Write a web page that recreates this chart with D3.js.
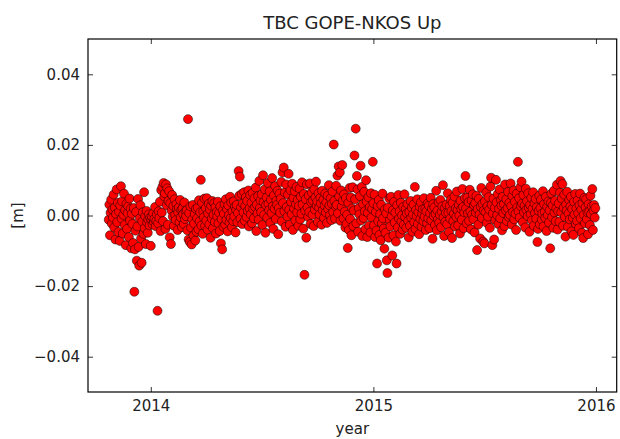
<!DOCTYPE html>
<html>
<head>
<meta charset="utf-8">
<script src="https://cdn.jsdelivr.net/npm/d3@7"></script>
<style>
  body { margin: 0; background: #fff; }
  svg { display: block; font-family: "DejaVu Sans", sans-serif; }
</style>
</head>
<body>
<svg id="chart" width="620" height="439"></svg>
<script>
// daily Up component, values in mm
const start2013 = "2013-10-24";
const up2013 = [
  -1.2, 3.1, -5.6, 0.8, 4.5, -2.3, 1.7, -0.6,
  5.9, -3.4, 2.2, -6.8, 0.4, 7.4, -1.9, 3.6, -4.7, 1.1, -7.2, 2.8, 8.3, -0.9, 4.0, -5.1, 0.2, 6.2, -2.7, 1.5, -8.4, 3.3, -3.8, 0.7, 2.6, -6.1, 4.8, -1.4, 1.9, -9.3,
  0.5, -2.4, -7.8, 2.1, -21.6, -9.6, -4.3, 1.0, -12.8, -3.1, 4.7, -8.9, -14.2, -0.8, 2.9, -6.5, -13.4, -1.7, 0.9, -5.2, 6.6, -3.6, -0.2, -8.1, 1.3, -2.0, -4.9, -1.1, 0.3, -2.8, -0.6
];

const start2014 = "2014-01-01";
const up2014 = [
  // jan
  -8.6, -1.2, -0.4, -2.5, 0.6, -1.8, -0.9, 2.4, -3.0, -1.5, 0.3, -27.0, -2.2, 1.2, -0.7, 3.9, -4.4, 7.2, 0.8, 8.1, -1.6, 9.2, 5.4, 6.3, -3.8, 8.8, 2.9, 7.7, -2.6, 4.1, 6.9,
  // feb
  -6.2, 3.5, -8.1, 1.4, 5.8, -0.3, 2.7, -2.9, 4.6, 0.1, -1.3, 3.2, 1.8, -4.1, 0.9, 2.3, -1.9, 4.4, -0.5, 1.6, -3.3, 2.0, 0.4, -2.4, 3.7, -1.0, 1.2, -0.2,
  // mar
  1.5, -4.2, 27.3, -6.8, 0.7, -7.5, 2.6, -3.4, -8.2, -1.1, 3.0, -5.7, -2.3, 0.4, -7.1, 1.9, -4.6, -0.8, 2.2, -3.9, 4.3, -1.7, 0.9, 10.1, -2.8, 3.6, -5.2, 1.1, -0.5, 4.8, -3.0,
  // apr
  2.1, -1.4, 4.9, -4.0, 0.6, 3.3, -2.5, 1.7, -6.3, 2.8, -0.9, 4.1, -3.6, 0.2, 3.5, -1.8, 2.4, -5.1, 1.0, -0.3, 3.9, -2.2, 0.8, -4.4, 2.6, -7.9, -1.0, -9.6, 1.4, -3.2,
  // may
  0.5, 3.2, -2.6, 4.6, -1.2, 1.8, -4.5, 2.9, 0.1, -2.0, 5.3, -0.7, 3.7, -3.3, 1.2, -1.6, 4.0, -0.2, 2.5, -4.8, 1.6, 3.0, -1.9, 0.7, 12.6, 5.6, 11.0, -0.9, 2.3, 6.1, -2.4,
  // jun
  3.4, 0.9, 6.6, -1.5, 2.7, 5.2, -0.4, 4.1, 1.3, 7.1, -3.1, 2.0, 5.8, 0.3, 3.6, -2.2, 6.4, 1.8, -0.8, 4.9, 2.4, 7.9, -4.4, 3.1, 0.6, 5.5, -1.2, 9.8, 2.2, 4.3,
  // jul
  1.0, 6.0, -2.7, 11.4, 3.8, 0.2, 7.4, -4.9, 2.9, 5.1, -0.6, 9.2, 3.3, 1.5, 6.8, -2.1, 4.5, 0.7, 10.6, 2.6, -3.8, 5.7, 1.9, 8.3, -1.0, 4.2, 3.0, 7.0, -5.3, 2.1, 6.2,
  // aug
  0.8, 4.7, 9.5, -1.7, 12.2, 3.5, 13.6, 1.2, 6.5, -3.2, 8.8, 2.4, -0.3, 5.9, 11.8, 1.6, -2.6, 7.2, 3.9, 0.4, 9.0, -4.1, 5.0, 2.0, 6.9, -1.4, 3.2, 8.1, 0.9, 4.4, -2.9,
  // sep
  2.7, 7.6, -1.1, 5.3, 0.5, 9.4, 3.1, -3.7, 6.1, -16.8, 1.4, 4.6, -6.3, 8.8, 2.3, -0.4, 5.7, 1.0, 9.1, -2.4, 3.8, 6.5, 0.2, 4.2, -3.0, 7.4, 1.7, 5.1, 9.6, 2.8,
  // oct
  4.0, -1.8, 6.3, 2.2, 0.3, 5.0, 3.4, -2.6, 7.0, 1.5, 4.5, -0.7, 2.8, 6.2, 0.9, 3.7, -2.1, 5.6, 1.8, 8.6, 2.9, 0.1, 4.9, -1.3, 3.3, 6.8, 1.0, 20.1, 4.1, -0.9, 2.6,
  // nov
  8.4, 3.0, 11.3, 0.6, 13.9, 5.4, 12.2, -1.5, 7.1, 2.5, 14.3, 4.2, -0.8, 6.0, 1.1, -3.4, 4.9, -2.4, 0.2, -9.2, 3.6, -4.1, 7.8, -1.0, 5.1, -5.6, 2.0, 8.0, -3.0, 1.4,
  // dec
  17.0, 4.6, 24.6, -2.2, 11.2, 7.4, -4.6, 2.1, 0.3, 5.5, 14.1, -1.4, 8.1, -5.8, 3.2, -0.7, 6.7, 1.2, -3.9, 10.0, 4.0, -6.1, 0.8, 5.2, -2.9, 2.4, -4.8, 6.3, -0.5, 1.9, 15.2
];

const start2015 = "2015-01-01";
const up2015 = [
  // jan
  3.5, -2.8, 5.9, -6.1, 1.0, -4.3, -13.6, 2.7, -1.6, 4.4, -5.5, 0.4, -7.0, 3.0, -2.2, 6.2, -0.8, -3.7, -9.4, 1.7, -4.9, 0.6, -12.7, -16.3, 2.2, -6.3, 4.8, -1.3, -3.1, 5.3, -0.2,
  // feb
  -11.3, 1.5, -5.6, 3.9, -2.0, 0.8, -7.4, -13.6, 2.9, -3.4, 5.8, -0.9, 1.2, -5.2, 3.6, -1.7, 0.1, -4.0, 2.4, -2.6, 6.0, -0.4, 1.9, -3.5, 0.6, 3.3, -1.5, -6.2,
  // mar
  1.0, -2.9, 4.1, -0.6, 2.2, -4.6, 0.3, 3.1, -1.9, 8.1, -3.8, 1.6, -0.2, 4.6, -2.4, 0.9, -5.3, 2.5, -1.0, 3.7, -3.2, 0.5, 1.8, -1.6, 4.9, -0.3, 2.0, -4.1, 1.2, -2.2, 3.4,
  // apr
  -0.8, 2.8, -3.6, 0.6, 5.0, -1.4, 1.9, -6.6, 3.2, -0.1, 2.3, -2.7, 0.4, 7.0, -4.2, 1.4, -1.1, 3.8, -2.0, 0.2, 4.4, -3.3, 1.1, 2.6, 8.6, -0.5, -5.8, 2.1, -1.8, 0.7,
  // may
  3.1, -2.5, 6.3, 0.8, -4.7, 2.7, -0.9, 4.5, 1.3, -6.4, 3.6, -1.6, 0.5, 5.4, -3.1, 2.0, -0.4, 6.8, 1.6, -2.8, 3.0, 0.0, -5.1, 4.2, 1.9, -1.2, 7.5, 2.4, -3.6, 0.9, 5.0,
  // jun
  11.2, 2.0, -2.2, 5.1, 0.6, 3.8, -1.5, 7.3, 1.1, -3.9, 4.3, 0.2, 6.0, -1.0, 2.9, -4.8, 3.5, 0.8, 5.6, -9.8, 1.8, -2.6, 4.7, 0.3, -6.5, 2.5, 7.8, -0.7, 3.3, -7.4,
  // jul
  1.4, -7.9, 4.0, 0.9, 6.5, -2.1, 2.6, -0.3, 5.2, 1.7, -3.5, 8.2, 10.7, 3.0, -8.4, 0.6, 4.8, -6.8, 2.2, -1.3, 10.1, 3.7, 0.1, 6.1, -2.4, 1.9, 7.4, -0.8, 4.4, 2.8, -4.2,
  // aug
  5.3, 0.7, 3.2, -3.0, 8.8, 1.5, 4.6, -1.6, 2.1, 6.7, -0.4, 3.6, 0.2, 9.1, 2.7, -2.6, 5.5, 1.0, 7.1, -1.1, 3.9, 0.5, -4.1, 6.2, 2.3, 15.2, 1.2, 4.9, -0.6, 8.0, 2.6,
  // sep
  9.6, 3.4, -1.9, 5.8, 0.9, 2.8, -3.4, 7.6, 1.6, 4.1, -0.2, 6.3, 2.2, -4.6, 3.0, 0.4, 5.0, -1.4, 1.9, 6.6, -2.9, 3.5, 0.7, 4.7, -0.9, 2.3, -7.5, -3.8, 1.3, 5.6,
  // oct
  -2.5, 2.1, 4.5, -1.2, 0.6, 6.9, -3.1, 3.2, 1.0, -0.7, 5.3, -4.4, 2.5, 0.1, 4.0, -2.0, 1.5, -9.3, 3.6, 6.2, -0.5, 2.8, -3.5, 7.0, 0.8, 4.2, -1.6, 2.0, 8.7, -4.0, 1.2,
  // nov
  3.4, -1.8, 6.5, 9.8, 0.9, 4.8, 8.9, -2.9, 2.2, 5.9, -0.4, -6.0, 3.1, 1.4, 6.7, -3.2, 0.5, 4.4, -1.1, 2.6, 5.3, -4.5, 1.8, -0.7, -5.5, 3.9, 0.3, 6.1, -2.4, 2.0,
  // dec
  -1.5, 4.3, 0.6, -3.6, 2.9, 6.2, -0.8, 1.7, -4.9, 3.5, -6.4, 0.2, 5.0, -2.2, 2.3, 4.6, -1.0, 0.9, -5.3, 3.2, 1.1, -2.7, 5.6, 0.4, 2.6, 7.5, -4.1, 1.4, 3.0, -0.6, 2.1
];

const yTicks = [-0.04, -0.02, 0, 0.02, 0.04];
const xTicks = ["2014-01-01", "2015-01-01", "2016-01-01"];

const parseDay = d3.utcParse("%Y-%m-%d");

function series(start, values) {
  const t0 = parseDay(start);
  return values.map((v, i) => ({date: d3.utcDay.offset(t0, i), value: v / 1000}));
}

const data = [
  ...series(start2013, up2013),
  ...series(start2014, up2014),
  ...series(start2015, up2015)
];

const svg = d3.select("#chart");
const margin = {top: 39, right: 3.3, bottom: 47, left: 88};
const width = 620, height = 439;

const x = d3.scaleUtc()
  .domain([parseDay("2013-09-20"), parseDay("2016-02-04")])
  .range([margin.left, width - margin.right]);

const y = d3.scaleLinear()
  .domain([-0.05, 0.05])
  .range([height - margin.bottom, margin.top]);

// points
svg.append("g")
  .selectAll("circle")
  .data(data)
  .join("circle")
    .attr("cx", d => x(d.date))
    .attr("cy", d => y(d.value))
    .attr("r", 4.5)
    .attr("fill", "#ff0000")
    .attr("stroke", "#000")
    .attr("stroke-width", 0.5);

const fmtY = d3.format(".2f");
const xTickDates = xTicks.map(parseDay);

// axes, ticks pointing inward on all four sides
svg.append("g")
  .attr("transform", `translate(0,${height - margin.bottom})`)
  .call(d3.axisBottom(x).tickValues(xTickDates).tickFormat(d3.utcFormat("%Y"))
    .tickSizeInner(-5).tickSizeOuter(0).tickPadding(8));

svg.append("g")
  .attr("transform", `translate(0,${margin.top})`)
  .call(d3.axisTop(x).tickValues(xTickDates).tickFormat("")
    .tickSizeInner(-5).tickSizeOuter(0));

svg.append("g")
  .attr("transform", `translate(${margin.left},0)`)
  .call(d3.axisLeft(y).tickValues(yTicks).tickFormat(fmtY)
    .tickSizeInner(-5).tickSizeOuter(0).tickPadding(8));

svg.append("g")
  .attr("transform", `translate(${width - margin.right},0)`)
  .call(d3.axisRight(y).tickValues(yTicks).tickFormat("")
    .tickSizeInner(-5).tickSizeOuter(0));

svg.selectAll(".domain").remove();
svg.selectAll(".tick line").attr("stroke", "#000").attr("stroke-width", 0.8);
svg.selectAll(".tick text")
  .attr("fill", "#222")
  .style("font-family", "DejaVu Sans")
  .style("font-size", "15px");

// frame
svg.append("rect")
  .attr("x", margin.left)
  .attr("y", margin.top)
  .attr("width", width - margin.right - margin.left)
  .attr("height", height - margin.bottom - margin.top)
  .attr("fill", "none")
  .attr("stroke", "#000")
  .attr("stroke-width", 1.2);

// title + labels
svg.append("text")
  .attr("x", (margin.left + width - margin.right) / 2)
  .attr("y", 29)
  .attr("text-anchor", "middle")
  .attr("fill", "#222")
  .style("font-size", "18px")
  .text("TBC GOPE-NKOS Up");

svg.append("text")
  .attr("x", (margin.left + width - margin.right) / 2)
  .attr("y", 434)
  .attr("text-anchor", "middle")
  .attr("fill", "#222")
  .style("font-size", "15px")
  .text("year");

svg.append("text")
  .attr("transform", `translate(23,${(margin.top + height - margin.bottom) / 2}) rotate(-90)`)
  .attr("text-anchor", "middle")
  .attr("fill", "#222")
  .style("font-size", "15px")
  .text("[m]");
</script>
</body>
</html>
